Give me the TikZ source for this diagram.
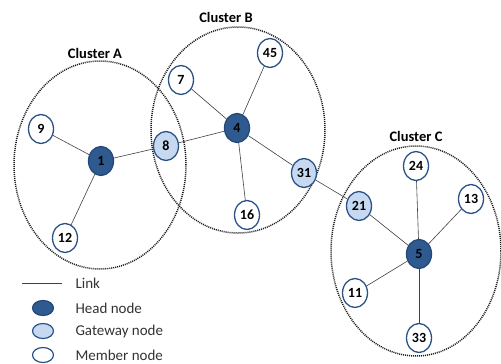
\documentclass[tikz,border=0pt]{standalone}
\usepackage{fontspec}
\setmainfont{Carlito}
\usetikzlibrary{shapes.geometric}
\definecolor{headfill}{HTML}{2F5A8F}
\definecolor{headline}{HTML}{24487A}
\definecolor{gatefill}{HTML}{C6D9F1}
\definecolor{rimline}{HTML}{2B5286}
\tikzset{
  base/.style={ellipse, line width=1.3pt, draw=rimline, minimum width=25pt, minimum height=29pt, inner sep=0pt, font=\bfseries\fontsize{14}{14}\selectfont},
  head/.style={base, fill=headfill, draw=headline},
  gate/.style={base, fill=gatefill},
  member/.style={base, fill=white},
  link/.style={draw=black!75, line width=0.6pt},
  cluster/.style={ellipse, draw=black!90, line width=1.5pt, dash pattern=on 1pt off 1pt, inner sep=0pt},
  ctitle/.style={font=\bfseries\fontsize{14.5}{14.5}\selectfont},
  legsym/.style={ellipse, line width=1.2pt, draw=rimline, minimum width=21pt, minimum height=15pt, inner sep=0pt},
  legtext/.style={anchor=west, text=black!80, font=\fontsize{15}{15}\selectfont}
}
\begin{document}
\begin{tikzpicture}[x=1pt, y=-1pt]
\useasboundingbox (0,0) rectangle (501,364);
% cluster outlines
\node[cluster, minimum width=172pt, minimum height=208pt] (cA) at (100,165) {};
\node[cluster, minimum width=174pt, minimum height=206pt] (cB) at (238,130) {};
\node[cluster, minimum width=170pt, minimum height=210pt] (cC) at (416,251) {};
\node[ctitle] (tA) at (95,53) {Cluster A};
\node[ctitle] (tB) at (226,17) {Cluster B};
\node[ctitle] (tC) at (416,136) {Cluster C};
% links (drawn first so the nodes cover their ends)
\coordinate (p9) at (41,129);
\coordinate (p1) at (101,161);
\coordinate (p12) at (65,238);
\coordinate (p8) at (166,146);
\coordinate (p7) at (181,80);
\coordinate (p4) at (237,128);
\coordinate (p45) at (270,53);
\coordinate (p16) at (247,215);
\coordinate (p31) at (304,173);
\coordinate (p21) at (359,206);
\coordinate (p24) at (416,166);
\coordinate (p13) at (471,199);
\coordinate (p5) at (419,254);
\coordinate (p11) at (355,293);
\coordinate (p33) at (419,338);
% nodes
\node[member] (n9) at (p9) {9};
\node[head, text=black] (n1) at (p1) {1};
\node[member] (n12) at (p12) {12};
\node[gate] (n8) at (p8) {8};
\node[member] (n7) at (p7) {7};
\node[head, text=black] (n4) at (p4) {4};
\node[member] (n45) at (p45) {45};
\node[member] (n16) at (p16) {16};
\node[gate] (n31) at (p31) {31};
\node[gate] (n21) at (p21) {21};
\node[member] (n24) at (p24) {24};
\node[member] (n13) at (p13) {13};
\node[head, text=black] (n5) at (p5) {5};
\node[member] (n11) at (p11) {11};
\node[member] (n33) at (p33) {33};
% links
\path[link] (n9) -- (n1);
\path[link] (n1) -- (n12);
\path[link] (n1) -- (n8);
\path[link] (n8) -- (n4);
\path[link] (n7) -- (n4);
\path[link] (n45) -- (n4);
\path[link] (n16) -- (n4);
\path[link] (n4) -- (n31);
\path[link] (n31) -- (n21);
\path[link] (n21) -- (n5);
\path[link] (n24) -- (n5);
\path[link] (n13) -- (n5);
\path[link] (n11) -- (n5);
\path[link] (n33) -- (n5);
% legend
\coordinate (l1) at (22,283);
\coordinate (l2) at (62,283);
\path[link] (l1) -- (l2);
\node[legtext] (lt1) at (72,283) {Link};
\node[legsym, fill=headfill, draw=headline] (ls2) at (43,308) {};
\node[legtext] (lt2) at (72,308) {Head node};
\node[legsym, fill=gatefill] (ls3) at (43,331) {};
\node[legtext] (lt3) at (72,331) {Gateway node};
\node[legsym, fill=white] (ls4) at (43,355) {};
\node[legtext] (lt4) at (72,355) {Member node};
\end{tikzpicture}
\end{document}
